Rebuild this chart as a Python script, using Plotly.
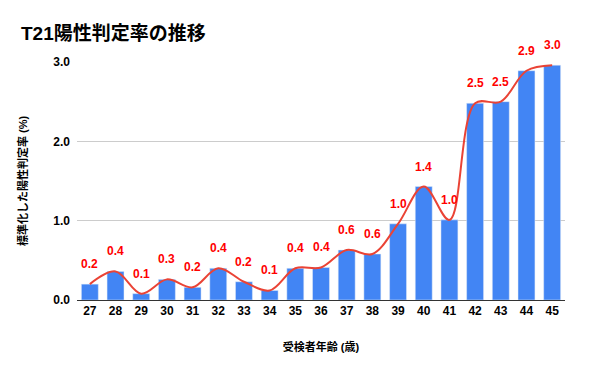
import plotly.graph_objects as go

ages = ["27","28","29","30","31","32","33","34","35","36","37","38","39","40","41","42","43","44","45"]
rates = [0.20,0.36,0.08,0.26,0.16,0.40,0.23,0.12,0.40,0.41,0.63,0.58,0.96,1.43,1.01,2.48,2.50,2.89,2.96]
y_ticks = [0.0, 1.0, 2.0, 3.0]

FONT = "Liberation Sans, Arial, Noto Sans CJK JP, sans-serif"

fig = go.Figure()
fig.add_trace(go.Bar(x=ages, y=rates, marker_color="#4285F4", showlegend=False, hoverinfo="skip"))
fig.add_trace(go.Scatter(x=ages, y=rates, mode="lines", line=dict(color="#ea4335", width=2, shape="spline", smoothing=1),
                         showlegend=False, cliponaxis=False, hoverinfo="skip"))

for i, v in enumerate(rates):
    fig.add_annotation(x=i, y=v, xref="x", yref="y", text=f"{v:.1f}", showarrow=False, yshift=20,
                       font=dict(color="#ff0000", size=12, family=FONT, weight="bold"))

fig.update_layout(
    width=600, height=371,
    margin=dict(l=69, r=43, t=54, b=79),
    plot_bgcolor="white", paper_bgcolor="white",
    font=dict(family=FONT, color="#000000"),
    title=dict(text="T21陽性判定率の推移", x=13/600, xanchor="left", y=1-25/371, yanchor="middle",
               font=dict(size=19, family=FONT, color="#000000", weight="bold")),
    bargap=0.34,
    xaxis=dict(type="category", range=[-0.5, 18.5], showgrid=False, showline=True, linecolor="#333333", linewidth=1,
               tickfont=dict(size=12, family=FONT, weight="bold"), ticks="", tickangle=0,
               title=dict(text="受検者年齢 (歳)", font=dict(size=11, family=FONT, weight="bold"), standoff=25)),
    yaxis=dict(range=[0, 3.0], tickvals=y_ticks, tickformat=".1f",
               showgrid=True, gridcolor="#cccccc", zeroline=False, ticks="", ticklabelstandoff=6,
               tickfont=dict(size=12, family=FONT, weight="bold"),
               title=dict(text="標準化した陽性判定率 (%)", font=dict(size=11, family=FONT, weight="bold"), standoff=23)),
)

fig.write_html("out.html")
